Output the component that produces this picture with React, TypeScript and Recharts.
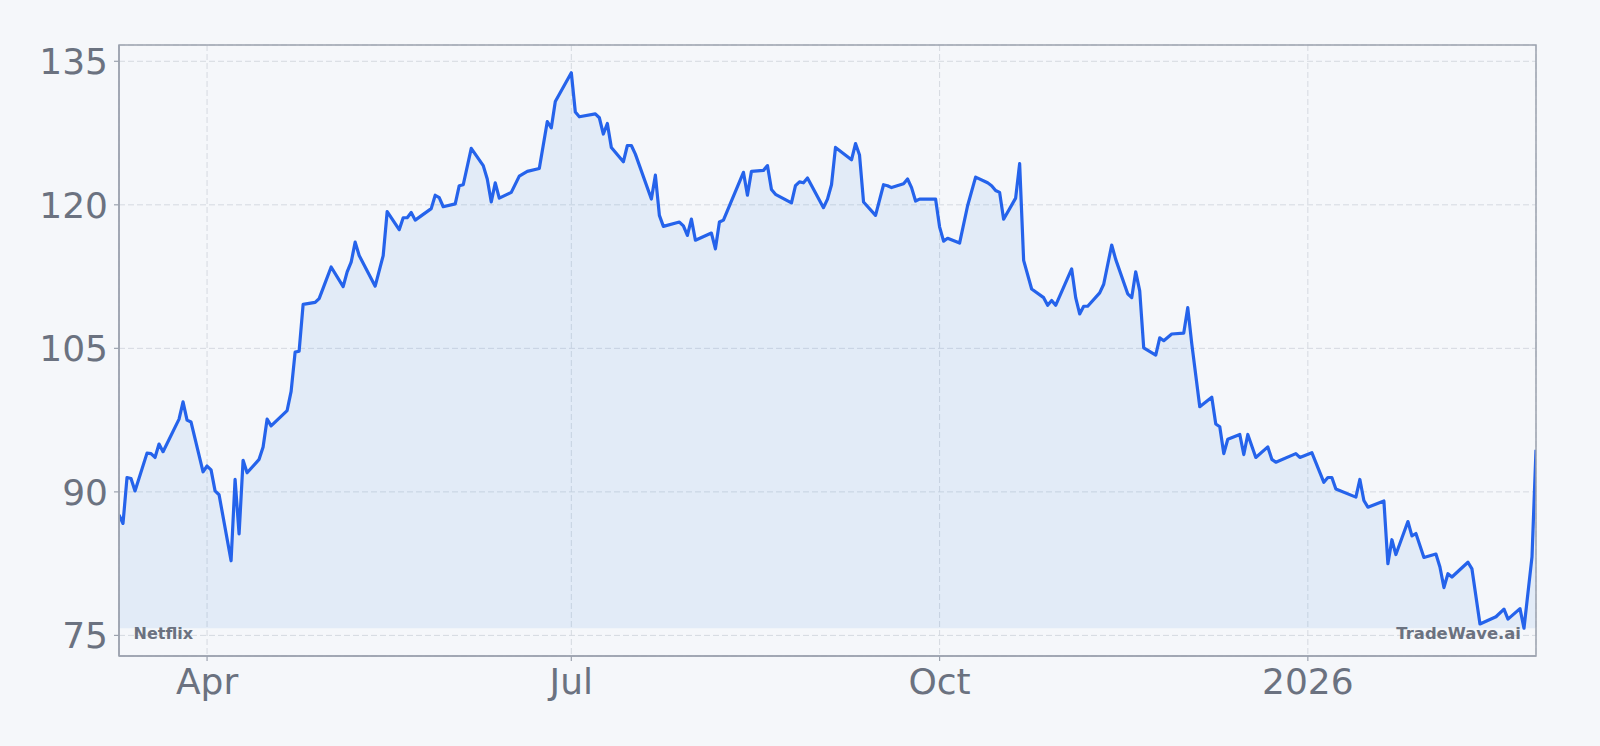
import { AreaChart, Area, XAxis, YAxis, CartesianGrid, ReferenceArea } from 'recharts';

// Netflix daily close, Mar 2025 - Feb 2026
const dates = [
  '2025-03-10', '2025-03-11', '2025-03-12', '2025-03-13', '2025-03-14', '2025-03-17', '2025-03-18',
  '2025-03-19', '2025-03-20', '2025-03-21', '2025-03-25', '2025-03-26', '2025-03-27', '2025-03-28',
  '2025-03-31', '2025-04-01', '2025-04-02', '2025-04-03', '2025-04-04', '2025-04-07', '2025-04-08',
  '2025-04-09', '2025-04-10', '2025-04-11', '2025-04-14', '2025-04-15', '2025-04-16', '2025-04-17',
  '2025-04-21', '2025-04-22', '2025-04-23', '2025-04-24', '2025-04-25', '2025-04-28', '2025-04-29',
  '2025-04-30', '2025-05-02', '2025-05-05', '2025-05-06', '2025-05-07', '2025-05-08', '2025-05-09',
  '2025-05-13', '2025-05-15', '2025-05-16', '2025-05-19', '2025-05-20', '2025-05-21', '2025-05-22',
  '2025-05-23', '2025-05-27', '2025-05-28', '2025-05-29', '2025-05-30', '2025-06-02', '2025-06-03',
  '2025-06-04', '2025-06-06', '2025-06-09', '2025-06-10', '2025-06-11', '2025-06-12', '2025-06-13',
  '2025-06-16', '2025-06-18', '2025-06-20', '2025-06-23', '2025-06-25', '2025-06-26', '2025-06-27',
  '2025-07-01', '2025-07-02', '2025-07-03', '2025-07-07', '2025-07-08', '2025-07-09', '2025-07-10',
  '2025-07-11', '2025-07-14', '2025-07-15', '2025-07-16', '2025-07-17', '2025-07-21', '2025-07-22',
  '2025-07-23', '2025-07-24', '2025-07-28', '2025-07-29', '2025-07-30', '2025-07-31', '2025-08-01',
  '2025-08-05', '2025-08-06', '2025-08-07', '2025-08-08', '2025-08-13', '2025-08-14', '2025-08-15',
  '2025-08-18', '2025-08-19', '2025-08-20', '2025-08-21', '2025-08-25', '2025-08-26', '2025-08-27',
  '2025-08-28', '2025-08-29', '2025-09-02', '2025-09-03', '2025-09-04', '2025-09-05', '2025-09-09',
  '2025-09-10', '2025-09-11', '2025-09-12', '2025-09-15', '2025-09-17', '2025-09-18', '2025-09-19',
  '2025-09-22', '2025-09-23', '2025-09-24', '2025-09-25', '2025-09-26', '2025-09-30', '2025-10-01',
  '2025-10-02', '2025-10-03', '2025-10-06', '2025-10-08', '2025-10-10', '2025-10-13', '2025-10-14',
  '2025-10-15', '2025-10-16', '2025-10-17', '2025-10-20', '2025-10-21', '2025-10-22', '2025-10-24',
  '2025-10-27', '2025-10-28', '2025-10-29', '2025-10-30', '2025-11-03', '2025-11-04', '2025-11-05',
  '2025-11-06', '2025-11-07', '2025-11-10', '2025-11-11', '2025-11-13', '2025-11-14', '2025-11-17',
  '2025-11-18', '2025-11-19', '2025-11-20', '2025-11-21', '2025-11-24', '2025-11-25', '2025-11-26',
  '2025-11-28', '2025-12-01', '2025-12-02', '2025-12-03', '2025-12-05', '2025-12-08', '2025-12-09',
  '2025-12-10', '2025-12-11', '2025-12-12', '2025-12-15', '2025-12-16', '2025-12-17', '2025-12-19',
  '2025-12-22', '2025-12-23', '2025-12-24', '2025-12-29', '2025-12-30', '2026-01-02', '2026-01-05',
  '2026-01-06', '2026-01-07', '2026-01-08', '2026-01-13', '2026-01-14', '2026-01-15', '2026-01-16',
  '2026-01-20', '2026-01-21', '2026-01-22', '2026-01-23', '2026-01-26', '2026-01-27', '2026-01-28',
  '2026-01-30', '2026-02-02', '2026-02-03', '2026-02-04', '2026-02-05', '2026-02-06', '2026-02-10',
  '2026-02-11', '2026-02-13', '2026-02-17', '2026-02-19', '2026-02-20', '2026-02-23', '2026-02-24',
  '2026-02-26', '2026-02-27',
];

const closes = [
  87.6, 86.7, 91.5, 91.4, 90.1, 94.05, 94.0,
  93.6, 95.0, 94.2, 97.6, 99.4, 97.5, 97.3,
  92.1, 92.7, 92.3, 90.1, 89.7, 82.8, 91.3,
  85.6, 93.3, 92.0, 93.4, 94.7, 97.6, 96.9,
  98.5, 100.5, 104.6, 104.7, 109.6, 109.8, 110.2,
  111.3, 113.5, 111.45, 113.0, 114.0, 116.1, 114.7,
  111.5, 114.7, 119.3, 117.4, 118.65, 118.65, 119.2,
  118.4, 119.6, 121.0, 120.75, 119.8, 120.1, 122.0,
  122.1, 125.9, 124.1, 122.7, 120.3, 122.3, 120.7,
  121.3, 123.0, 123.5, 123.8, 128.7, 128.05, 130.8,
  133.8, 129.7, 129.2, 129.5, 129.1, 127.4, 128.5,
  126.0, 124.5, 126.2, 126.2, 125.3, 120.6, 123.1,
  118.9, 117.75, 118.2, 117.8, 116.8, 118.5, 116.3,
  117.05, 115.4, 118.2, 118.4, 123.4, 121.0, 123.5,
  123.6, 124.1, 121.6, 121.1, 120.2, 122.0, 122.4,
  122.3, 122.8, 119.7, 120.6, 122.1, 126.0, 124.7,
  126.4, 125.2, 120.3, 118.9, 122.1, 122.0, 121.8,
  122.2, 122.7, 121.8, 120.4, 120.6, 120.6, 117.7,
  116.2, 116.5, 116.0, 119.9, 122.9, 122.3, 122.0,
  121.5, 121.3, 118.5, 120.7, 124.3, 114.2, 111.2,
  110.3, 109.5, 110.0, 109.5, 113.3, 110.3, 108.6,
  109.4, 109.4, 110.8, 111.7, 115.8, 114.3, 110.7,
  110.3, 113.0, 111.0, 105.05, 104.3, 106.1, 105.8,
  106.5, 106.6, 109.25, 105.5, 98.9, 99.9, 97.1,
  96.8, 94.0, 95.5, 96.0, 93.9, 96.0, 93.6,
  94.7, 93.4, 93.1, 94.0, 93.6, 94.1, 91.0,
  91.5, 91.5, 90.3, 89.45, 91.3, 89.1, 88.4,
  89.05, 82.5, 85.0, 83.45, 86.9, 85.4, 85.65,
  83.15, 83.5, 82.15, 80.0, 81.45, 81.1, 82.65,
  81.95, 76.2, 76.95, 77.75, 76.7, 77.8, 75.75,
  83.2, 94.4,
];

const yTicks = [75, 90, 105, 120, 135];
const xTickDates = ['2025-04-01', '2025-07-01', '2025-10-01', '2026-01-01'];
const xTickLabels = ['Apr', 'Jul', 'Oct', '2026'];

const DAY = 86400000;
const toDay = (d: string) => Date.parse(d + 'T00:00:00Z') / DAY;

const data = dates.map((d, i) => ({ t: toDay(d), close: closes[i] }));
const xTicks = xTickDates.map(toDay);

const lo = Math.min(...closes);
const hi = Math.max(...closes);
const pad = (hi - lo) * 0.05;
const yDomain = [lo - pad, hi + pad];
const xDomain = [data[0].t, data[data.length - 1].t];

const FONT = '"DejaVu Sans", sans-serif';
const GRAY = '#6b7280';
const AXIS = '#9ca3af';
const BLUE = '#2563eb';

export default function App() {
  const tickStyle = { fontSize: 36, fill: GRAY, fontFamily: FONT };
  return (
    <div style={{ position: 'relative', width: 1600, height: 746, background: '#f5f7fa' }}>
      <style>{'body { margin: 0; }'}</style>
      <AreaChart
        width={1600}
        height={746}
        data={data}
        margin={{ top: 45, right: 64, bottom: 50, left: 0 }}
      >
        <CartesianGrid stroke="#d5d9e0" strokeDasharray="6 3" strokeWidth={1} />
        <XAxis
          dataKey="t"
          type="number"
          domain={xDomain}
          ticks={xTicks}
          tickFormatter={(v) => xTickLabels[xTicks.indexOf(v)] ?? ''}
          tick={tickStyle}
          tickSize={5}
          tickMargin={7}
          height={40}
          axisLine={{ stroke: AXIS, strokeWidth: 1.5 }}
          tickLine={{ stroke: AXIS, strokeWidth: 1.2 }}
          allowDataOverflow
        />
        <YAxis
          type="number"
          domain={yDomain}
          ticks={yTicks}
          tick={tickStyle}
          tickSize={5}
          tickMargin={6}
          width={119}
          axisLine={{ stroke: AXIS, strokeWidth: 1.5 }}
          tickLine={{ stroke: AXIS, strokeWidth: 1.2 }}
          allowDataOverflow
        />
        <Area
          type="linear"
          dataKey="close"
          baseValue={lo}
          stroke={BLUE}
          strokeWidth={3.2}
          strokeLinejoin="round"
          fill="#4a90e2"
          fillOpacity={0.11}
          dot={false}
          activeDot={false}
          isAnimationActive={false}
        />
        {/* frame around the plot */}
        <ReferenceArea
          x1={xDomain[0]}
          x2={xDomain[1]}
          y1={yDomain[0]}
          y2={yDomain[1]}
          fill="none"
          fillOpacity={0}
          stroke={AXIS}
          strokeWidth={1.5}
          ifOverflow="visible"
        />
      </AreaChart>
      <svg
        width={1600}
        height={746}
        style={{ position: 'absolute', left: 0, top: 0, pointerEvents: 'none' }}
      >
        <text x={133.5} y={639} fontFamily={FONT} fontWeight="bold" fontSize={16} fill={GRAY}>
          Netflix
        </text>
        <text x={1521} y={639} textAnchor="end" fontFamily={FONT} fontWeight="bold" fontSize={16.4} fill={GRAY}>
          TradeWave.ai
        </text>
      </svg>
    </div>
  );
}
